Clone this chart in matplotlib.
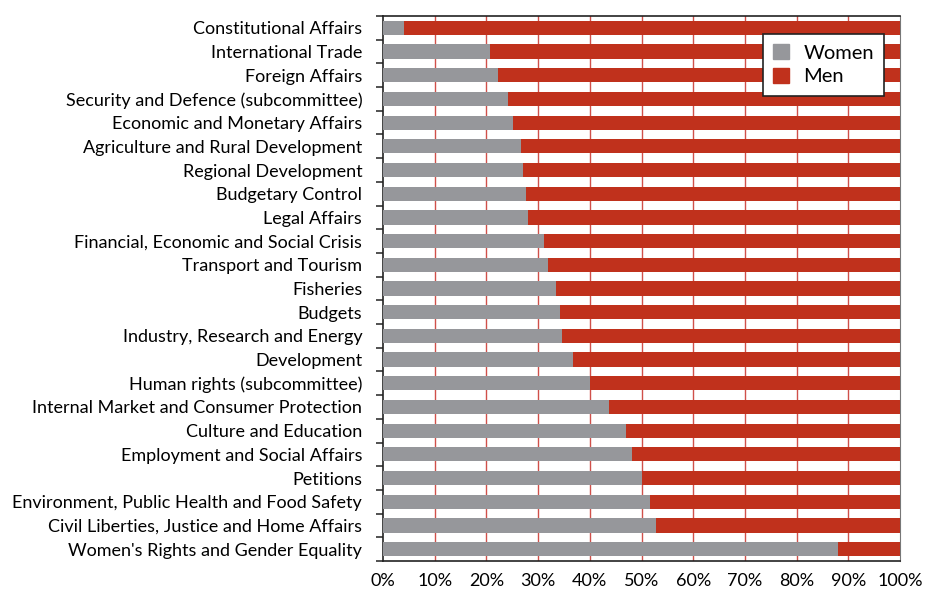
import numpy as np
import matplotlib
matplotlib.use("Agg")
from matplotlib import pyplot as plt
from matplotlib.patches import Patch

plt.rcParams['font.family'] = ['Lato', 'DejaVu Sans']

committees = [
    "Constitutional Affairs",
    "International Trade",
    "Foreign Affairs",
    "Security and Defence (subcommittee)",
    "Economic and Monetary Affairs",
    "Agriculture and Rural Development",
    "Regional Development",
    "Budgetary Control",
    "Legal Affairs",
    "Financial, Economic and Social Crisis",
    "Transport and Tourism",
    "Fisheries",
    "Budgets",
    "Industry, Research and Energy",
    "Development",
    "Human rights (subcommittee)",
    "Internal Market and Consumer Protection",
    "Culture and Education",
    "Employment and Social Affairs",
    "Petitions",
    "Environment, Public Health and Food Safety",
    "Civil Liberties, Justice and Home Affairs",
    "Women's Rights and Gender Equality",
]
women = [4.0, 20.7, 22.2, 24.2, 25.1, 26.7, 27.1, 27.6, 28.0, 31.1, 31.9,
         33.5, 34.2, 34.6, 36.8, 40.0, 43.7, 47.0, 48.2, 50.1, 51.7, 52.8, 88.0]
men = [100 - w for w in women]

grey = '#96979b'
red = '#c0311c'

fig = plt.figure(figsize=(9.3, 5.91), dpi=100)
ax = fig.add_axes([383 / 930, 1 - 561 / 591, 517 / 930, 545 / 591])

y = np.arange(len(committees))
ax.barh(y, women, height=0.6, color=grey, zorder=3)
ax.barh(y, men, left=women, height=0.6, color=red, zorder=3)

ax.set_xlim(0, 100)
ax.set_ylim(len(committees) - 0.5, -0.5)

ax.set_xticks(np.arange(0, 101, 10))
ax.set_xticklabels(["%d%%" % v for v in range(0, 101, 10)], fontsize=13)
ax.tick_params(axis='x', length=0, pad=9)

ax.set_yticks(y)
ax.set_yticklabels(committees, fontsize=13)
ax.tick_params(axis='y', which='major', length=0, pad=15)
ax.set_yticks(np.arange(-0.5, len(committees), 1), minor=True)
ax.tick_params(axis='y', which='minor', length=5, width=1.2, color='#333333')

for v in range(10, 100, 10):
    ax.axvline(v, color='#d0504a', lw=1, zorder=1)

for s in ['left', 'top', 'bottom']:
    ax.spines[s].set_color('#222222')
    ax.spines[s].set_linewidth(1.2)
ax.spines['right'].set_color('#777777')

handles = [Patch(color=grey, label='Women'), Patch(color=red, label='Men')]
leg = ax.legend(handles=handles, loc='upper right', bbox_to_anchor=(0.969, 0.967),
                borderaxespad=0, fontsize=14.5, frameon=True, fancybox=False,
                framealpha=1, handlelength=0.8, handleheight=0.8, handletextpad=0.7,
                borderpad=0.5, labelspacing=0.3)
leg.get_frame().set_edgecolor('#222222')
leg.get_frame().set_linewidth(1.2)
leg.set_zorder(5)

fig.savefig("out.png", dpi=100)
